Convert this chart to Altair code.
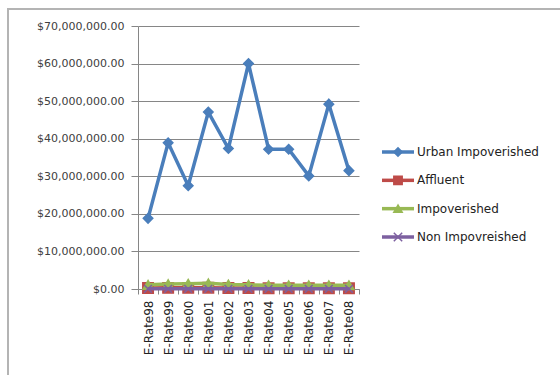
import altair as alt
import pandas as pd

categories = ["E-Rate98", "E-Rate99", "E-Rate00", "E-Rate01", "E-Rate02", "E-Rate03",
              "E-Rate04", "E-Rate05", "E-Rate06", "E-Rate07", "E-Rate08"]
series_names = ["Urban Impoverished", "Affluent", "Impoverished", "Non Impovreished"]

urban = [18.8e6, 38.9e6, 27.5e6, 47.1e6, 37.4e6, 60.0e6, 37.2e6, 37.2e6, 30.1e6, 49.2e6, 31.5e6]
affluent = [0.25e6, 0.3e6, 0.3e6, 0.35e6, 0.25e6, 0.25e6, 0.2e6, 0.2e6, 0.2e6, 0.2e6, 0.2e6]
impoverished = [1.1e6, 1.3e6, 1.4e6, 1.5e6, 1.2e6, 1.1e6, 1.0e6, 1.0e6, 1.0e6, 1.0e6, 1.0e6]
non_impov = [0.05e6, 0.05e6, 0.05e6, 0.05e6, 0.05e6, 0.05e6, 0.05e6, 0.05e6, 0.05e6, 0.05e6, 0.05e6]

colors = ["#4A7EBB", "#BE4B48", "#98B954", "#7D60A0"]
shapes = ["diamond", "square", "triangle-up", "M-1,-1L1,1M-1,1L1,-1"]
y_ticks = [0, 10e6, 20e6, 30e6, 40e6, 50e6, 60e6, 70e6]

all_values = [urban, affluent, impoverished, non_impov]
rows = []
for name, vals in zip(series_names, all_values):
    for c, v in zip(categories, vals):
        rows.append({"category": c, "series": name, "value": v})
df = pd.DataFrame(rows)
legend_df = pd.DataFrame({"series": series_names})

color_scale = alt.Scale(domain=series_names, range=colors)
shape_scale = alt.Scale(domain=series_names, range=shapes)
gray = "#868686"

x_enc = alt.X("category:N", sort=categories,
              scale=alt.Scale(type="band", domain=categories, paddingInner=0, paddingOuter=0),
              axis=alt.Axis(title=None, labelAngle=270, tickBand="extent", tickSize=5,
                            labelPadding=6, domainColor=gray, tickColor=gray,
                            labelFont="DejaVu Sans", labelFontSize=12, labelColor="#222222",
                            grid=False))
y_enc = alt.Y("value:Q",
              scale=alt.Scale(domain=[0, 70e6], nice=False, zero=True),
              axis=alt.Axis(title=None, values=y_ticks, format="$,.2f", tickSize=7,
                            labelPadding=7, domainColor=gray, tickColor=gray,
                            gridColor=gray, grid=True, labelFont="DejaVu Sans",
                            labelFontSize=11, labelColor="#404040"))

frame = alt.Chart(alt.Data(values=[{"a": 1}])).mark_rect(
    fill=None, stroke="#B4B4B4", strokeWidth=2
).encode(x=alt.value(-130), x2=alt.value(440), y=alt.value(-17), y2=alt.value(370))

main_layers = []
sizes = [90, 110, 100, 60]
for name, size in zip(series_names, sizes):
    sub = df[df["series"] == name]
    base = alt.Chart(sub)
    line = base.mark_line(strokeWidth=3.5).encode(
        x=x_enc, y=y_enc,
        color=alt.Color("series:N", scale=color_scale, legend=None))
    pts = base.mark_point(filled=True, size=size, strokeWidth=1.5, opacity=1).encode(
        x=x_enc, y=y_enc,
        color=alt.Color("series:N", scale=color_scale, legend=None),
        stroke=alt.Stroke("series:N", scale=color_scale, legend=None),
        shape=alt.Shape("series:N", scale=shape_scale, legend=None))
    main_layers += [line, pts]
main = alt.layer(*main_layers)

ly = alt.Y("series:N", scale=alt.Scale(type="point", domain=series_names, range=[126, 211], padding=0),
           axis=None)
leg_base = alt.Chart(legend_df)
leg_rule = leg_base.mark_rule(strokeWidth=3.5).encode(
    x=alt.value(244), x2=alt.value(276), y=ly,
    color=alt.Color("series:N", scale=color_scale, legend=None))
leg_pt = leg_base.mark_point(filled=True, size=70, strokeWidth=1.5, opacity=1).encode(
    x=alt.value(260), y=ly,
    color=alt.Color("series:N", scale=color_scale, legend=None),
    stroke=alt.Stroke("series:N", scale=color_scale, legend=None),
    shape=alt.Shape("series:N", scale=shape_scale, legend=None))
leg_text = leg_base.mark_text(align="left", baseline="middle", font="DejaVu Sans",
                              fontSize=12, color="#222222").encode(
    x=alt.value(279), y=ly, text="series:N")
legend = alt.layer(leg_rule, leg_pt, leg_text)

chart = alt.layer(frame, main, legend).resolve_scale(y="independent").properties(
    width=221, height=263,
    autosize=alt.AutoSizeParams(type="none"),
    padding={"left": 138, "top": 26, "right": 201, "bottom": 86},
    background="white"
).configure_view(stroke=None)

chart.save("out.html", embed_options={"renderer": "svg", "actions": False})
